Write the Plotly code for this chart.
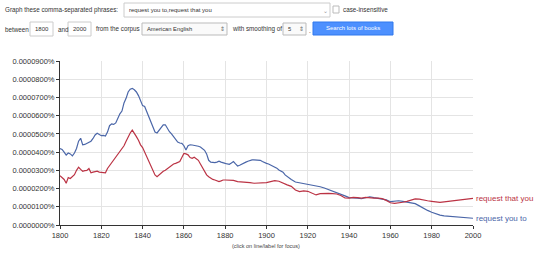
import plotly.graph_objects as go

# ---- data (values in percent) ----
years_you_to = [1800,1801,1802,1803,1804,1805,1806,1807,1808,1809,1810,1811,1812,1813,1814,1815,1816,1817,1818,1819,
                1820,1821,1822,1823,1824,1825,1826,1827,1828,1829,1830,1831,1832,1833,1834,1835,1836,1837,1838,1839,
                1840,1841,1842,1843,1844,1845,1846,1847,1848,1849,1850,1851,1852,1853,1854,1855,1856,1857,1858,1859,
                1860,1861,1862,1863,1864,1865,1866,1867,1868,1869,1870,1871,1872,1873,1874,1875,1876,1877,1878,1879,
                1880,1881,1882,1883,1884,1885,1886,1887,1888,1889,1890,1891,1892,1893,1894,1895,1896,1897,1898,1899,
                1900,1901,1902,1903,1904,1905,1906,1907,1908,1909,1910,1912,1914,1916,1918,1920,1922,1924,1926,1928,
                1930,1932,1934,1936,1938,1940,1942,1944,1946,1948,1950,1952,1954,1956,1958,1960,1962,1964,1966,1968,
                1970,1972,1974,1976,1978,1980,1982,1984,1986,1988,1990,1992,1994,1996,1998,2000]
vals_you_to = [4.2,4.15,4.0,3.84,3.95,3.9,3.79,3.95,4.2,4.6,4.76,4.4,4.42,4.48,4.5,4.6,4.75,4.94,5.03,4.95,
               4.9,4.92,4.88,5.1,5.45,5.55,5.52,5.6,5.9,6.1,6.25,6.7,6.95,7.3,7.45,7.5,7.42,7.3,7.1,6.8,
               6.55,6.5,6.2,5.9,5.6,5.35,5.1,5.05,5.2,5.3,5.5,5.5,5.3,5.12,5.0,4.85,4.7,4.55,4.5,4.48,
               4.35,4.12,4.35,4.4,4.39,4.38,4.35,4.32,4.28,4.2,4.1,3.9,3.55,3.45,3.43,3.42,3.45,3.5,3.45,3.4,
               3.38,3.35,3.33,3.4,3.48,3.35,3.24,3.28,3.35,3.4,3.45,3.5,3.55,3.57,3.57,3.56,3.58,3.55,3.48,3.42,
               3.38,3.35,3.3,3.25,3.2,3.12,3.02,2.95,2.9,2.75,2.65,2.5,2.36,2.32,2.3,2.23,2.18,2.14,2.1,2.03,
               1.95,1.86,1.79,1.7,1.6,1.5,1.5,1.47,1.44,1.5,1.55,1.5,1.47,1.45,1.38,1.28,1.3,1.33,1.3,1.25,
               1.22,1.17,1.05,0.91,0.8,0.7,0.6,0.54,0.5,0.48,0.46,0.44,0.43,0.41,0.39,0.37]

years_that_you = [1800,1801,1802,1803,1804,1805,1806,1807,1808,1809,1810,1811,1812,1813,1814,1815,1816,1817,1818,1819,
                  1820,1821,1822,1823,1824,1825,1826,1827,1828,1829,1830,1831,1832,1833,1834,1835,1836,1837,1838,1839,
                  1840,1841,1842,1843,1844,1845,1846,1847,1848,1849,1850,1851,1852,1853,1854,1855,1856,1857,1858,1859,
                  1860,1861,1862,1863,1864,1865,1866,1867,1868,1869,1870,1871,1872,1873,1874,1875,1876,1877,1878,1879,
                  1880,1882,1884,1886,1888,1890,1892,1894,1896,1898,1900,1902,1904,1906,1908,1910,1912,1914,1916,1918,
                  1920,1922,1924,1926,1928,1930,1932,1934,1936,1938,1940,1942,1944,1946,1948,1950,1952,1954,1956,1958,
                  1960,1962,1964,1966,1968,1970,1972,1974,1976,1978,1980,1982,1984,1986,1988,1990,1992,1994,1996,1998,2000]
vals_that_you = [2.7,2.6,2.5,2.29,2.6,2.55,2.65,2.76,3.0,3.17,3.05,2.95,2.98,3.0,3.1,2.86,2.9,2.92,2.95,2.9,
                 2.89,2.87,2.86,3.1,3.25,3.45,3.57,3.7,3.84,4.0,4.15,4.35,4.6,4.85,5.05,5.21,5.05,4.85,4.65,4.4,
                 4.25,4.0,3.8,3.5,3.2,2.95,2.75,2.65,2.75,2.86,2.95,3.0,3.1,3.2,3.28,3.35,3.38,3.42,3.48,3.7,
                 3.93,3.9,3.85,3.7,3.66,3.72,3.65,3.55,3.35,3.15,2.95,2.75,2.65,2.55,2.5,2.47,2.42,2.38,2.42,2.47,
                 2.47,2.48,2.45,2.38,2.37,2.35,2.32,2.29,2.3,2.32,2.33,2.38,2.43,2.4,2.28,2.2,2.12,1.92,1.83,1.87,
                 1.85,1.75,1.65,1.72,1.74,1.74,1.72,1.7,1.62,1.48,1.47,1.52,1.5,1.48,1.52,1.52,1.48,1.47,1.45,1.35,
                 1.22,1.19,1.2,1.25,1.3,1.38,1.43,1.42,1.36,1.33,1.3,1.25,1.24,1.27,1.3,1.34,1.37,1.4,1.43,1.45,1.46]

SCALE = 1e-5  # values above are in units of 0.00001 %
phrase_you_to = "request you to"
phrase_that_you = "request that you"
x_ticks = list(range(1800, 2001, 20))
y_ticks = [i * SCALE for i in range(0, 10)]
y_tick_text = ["%.7f%%" % v for v in y_ticks]

BLUE = "#4a66a8"
RED = "#bb3344"
FONT = "Liberation Sans, Arial, Helvetica, sans-serif"

W, H = 540, 268
L, R, T, B = 60, 67, 61, 43
PW, PH = W - L - R, H - T - B


def px(x):
    return (x - L) / PW


def py(y):
    return (H - B - y) / PH


fig = go.Figure()
fig.add_trace(go.Scatter(x=years_you_to, y=[v * SCALE for v in vals_you_to], mode="lines",
                         line=dict(color=BLUE, width=1.2), name=phrase_you_to, hoverinfo="skip"))
fig.add_trace(go.Scatter(x=years_that_you, y=[v * SCALE for v in vals_that_you], mode="lines",
                         line=dict(color=RED, width=1.2), name=phrase_that_you, hoverinfo="skip"))

annotations = [
    dict(x=2000, y=vals_that_you[-1] * SCALE, xref="x", yref="y", text=phrase_that_you, showarrow=False,
         xanchor="left", yanchor="middle", xshift=1, font=dict(color=RED, size=8, family=FONT)),
    dict(x=2000, y=vals_you_to[-1] * SCALE, xref="x", yref="y", text=phrase_you_to, showarrow=False,
         xanchor="left", yanchor="middle", xshift=1, font=dict(color=BLUE, size=8, family=FONT)),
    dict(x=px(266), y=py(246), xref="paper", yref="paper", text="(click on line/label for focus)",
         showarrow=False, xanchor="center", yanchor="middle", font=dict(size=5.5, color="#444", family=FONT)),
]

shapes = []


def box(x0, y0, x1, y1, fill="white", line="#cccccc"):
    shapes.append(dict(type="rect", xref="paper", yref="paper", x0=px(x0), x1=px(x1), y0=py(y1), y1=py(y0),
                       fillcolor=fill, line=dict(color=line, width=1), layer="above"))


def text(x, y, s, size=6.3, color="#333", anchor="left"):
    annotations.append(dict(x=px(x), y=py(y), xref="paper", yref="paper", text=s, showarrow=False,
                            xanchor=anchor, yanchor="middle", font=dict(size=size, color=color, family=FONT)))


# header row 1
text(3, 10, "Graph these comma-separated phrases:")
box(124, 3, 330, 17)
text(127, 10, "request you to,request that you", size=6)
text(325, 11, "⌄", size=6, color="#999", anchor="center")
box(333, 6, 339, 13, line="#bbbbbb")
text(341, 10, "case-insensitive")
# header row 2
text(3, 29, "between")
box(30, 22, 53, 36)
text(41.5, 29, "1800", anchor="center", size=6)
text(56, 29, "and")
box(68, 22, 91, 36)
text(79.5, 29, "2000", anchor="center", size=6)
text(94, 29, "from the corpus")
box(142, 23, 227, 35, fill="#fafafa", line="#bbbbbb")
text(145, 29, "American English", size=5.8)
text(222, 29, "⇕", size=5.5, color="#666", anchor="center")
text(230, 29, "with smoothing of")
box(283, 23, 306, 35, fill="#fafafa", line="#bbbbbb")
text(286, 29, "5", size=5.8)
text(301, 29, "⇕", size=5.5, color="#666", anchor="center")
text(307, 30, ".")
box(313, 22, 393, 35, fill="#4d90fe", line="#3079ed")
text(353, 28.5, "Search lots of books", size=6, color="white", anchor="center")

fig.update_layout(
    width=W, height=H,
    margin=dict(l=L, r=R, t=T, b=B, pad=0),
    paper_bgcolor="white", plot_bgcolor="white",
    showlegend=False,
    font=dict(family=FONT, size=7.5, color="#333"),
    annotations=annotations,
    shapes=shapes,
    xaxis=dict(range=[1800, 2000], tickvals=x_ticks, ticktext=[str(t) for t in x_ticks],
               showgrid=True, gridcolor="#e4e4e4", gridwidth=1,
               showline=True, linecolor="#333", linewidth=1,
               ticks="outside", ticklen=3, tickcolor="#333",
               tickfont=dict(size=7.5, color="#333"), zeroline=False, fixedrange=True),
    yaxis=dict(range=[0, 9 * SCALE], tickvals=y_ticks, ticktext=y_tick_text,
               showgrid=True, gridcolor="#e4e4e4", gridwidth=1,
               showline=True, linecolor="#333", linewidth=1,
               ticks="outside", ticklen=3, tickcolor="#333",
               tickfont=dict(size=7.5, color="#333"), zeroline=False, fixedrange=True),
)

fig.write_html("out.html", config={"displayModeBar": False})
